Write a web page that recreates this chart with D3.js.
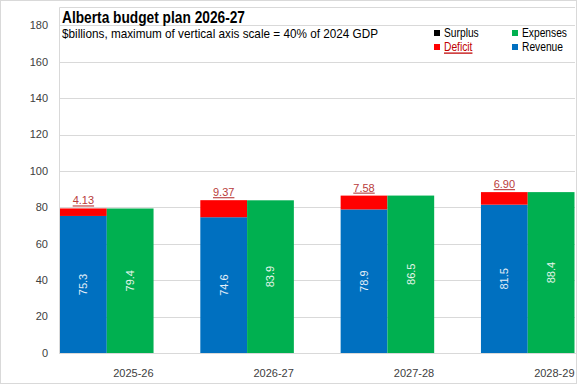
<!DOCTYPE html>
<html>
<head>
<meta charset="utf-8">
<script src="https://cdn.jsdelivr.net/npm/d3@7"></script>
<style>
  body { margin: 0; background: #fff; }
  text { font-family: "Liberation Sans", Arial, sans-serif; }
</style>
</head>
<body>
<div id="chart"></div>
<script>
const years = ["2025-26", "2026-27", "2027-28", "2028-29"];
const revenue = [75.3, 74.6, 78.9, 81.5];
const expenses = [79.4, 83.9, 86.5, 88.4];
const deficit = [4.13, 9.37, 7.58, 6.90];
const yTicks = [0, 20, 40, 60, 80, 100, 120, 140, 160, 180];
const legendItems = [
  {name: "Surplus", color: "#000000"},
  {name: "Expenses", color: "#00b050"},
  {name: "Deficit", color: "#ff0000"},
  {name: "Revenue", color: "#0070c0"}
];

const W = 577, H = 385;
const plot = {left: 59, right: 575, top: 7, bottom: 353};

const svg = d3.select("#chart").append("svg")
    .attr("width", W).attr("height", H);

// outer frame
svg.append("rect")
    .attr("x", 0.5).attr("y", 0.5)
    .attr("width", W - 1).attr("height", H - 2)
    .attr("fill", "#fff").attr("stroke", "#d9d9d9");

const y = d3.scaleLinear().domain([0, 180]).range([plot.bottom, 25.4]);

const x = d3.scaleBand()
    .domain(years)
    .range([60, 574.5])
    .paddingInner(1 / 3)
    .paddingOuter(0);

const xSub = d3.scaleBand()
    .domain(["rev", "exp"])
    .range([0, x.bandwidth()]);

// gridlines
svg.append("g").selectAll("line")
    .data(yTicks.slice(1))
    .enter().append("line")
    .attr("x1", plot.left).attr("x2", plot.right)
    .attr("y1", d => Math.round(y(d)) + 0.5).attr("y2", d => Math.round(y(d)) + 0.5)
    .attr("stroke", "#d9d9d9");

// plot frame (left + top)
svg.append("path")
    .attr("d", `M${plot.left + 0.5},${plot.bottom}V${plot.top + 0.5}H${plot.right}`)
    .attr("fill", "none").attr("stroke", "#d9d9d9");

svg.append("clipPath").attr("id", "pclip")
  .append("rect").attr("x", plot.left).attr("y", 0)
    .attr("width", plot.right - plot.left).attr("height", plot.bottom);

const bars = svg.append("g").attr("clip-path", "url(#pclip)");

// revenue
bars.selectAll(".rev").data(years).enter().append("rect")
    .attr("x", d => x(d) + xSub("rev"))
    .attr("y", (d, i) => y(revenue[i]))
    .attr("width", xSub.bandwidth())
    .attr("height", (d, i) => y(0) - y(revenue[i]))
    .attr("fill", "#0070c0");

// deficit stacked on revenue
bars.selectAll(".def").data(years).enter().append("rect")
    .attr("x", d => x(d) + xSub("rev"))
    .attr("y", (d, i) => y(revenue[i] + deficit[i]))
    .attr("width", xSub.bandwidth())
    .attr("height", (d, i) => y(revenue[i]) - y(revenue[i] + deficit[i]))
    .attr("fill", "#ff0000");

// expenses
bars.selectAll(".exp").data(years).enter().append("rect")
    .attr("x", d => x(d) + xSub("exp"))
    .attr("y", (d, i) => y(expenses[i]))
    .attr("width", xSub.bandwidth())
    .attr("height", (d, i) => y(0) - y(expenses[i]))
    .attr("fill", "#00b050");

// x axis line
svg.append("line")
    .attr("x1", plot.left).attr("x2", plot.right + 1)
    .attr("y1", plot.bottom + 0.5).attr("y2", plot.bottom + 0.5)
    .attr("stroke", "#d9d9d9");

// value labels inside bars
function vlabel(vals, key, color) {
  svg.append("g").selectAll("text").data(years).enter().append("text")
      .attr("transform", (d, i) => {
        const cx = x(d) + xSub(key) + xSub.bandwidth() / 2;
        const cy = (y(0) + y(vals[i])) / 2;
        return `translate(${cx},${cy}) rotate(-90)`;
      })
      .attr("text-anchor", "middle")
      .attr("dy", "0.35em")
      .attr("font-size", 11)
      .attr("fill", color)
      .text((d, i) => vals[i].toFixed(1));
}
vlabel(revenue, "rev", "#e6eff8");
vlabel(expenses, "exp", "#e6f6ec");

// deficit labels
svg.append("g").selectAll("text").data(years).enter().append("text")
    .attr("x", d => x(d) + xSub("rev") + xSub.bandwidth() / 2)
    .attr("y", (d, i) => y(revenue[i] + deficit[i]) - 4)
    .attr("text-anchor", "middle")
    .attr("font-size", 11)
    .attr("fill", "#b83b3b")
    .attr("text-decoration", "underline")
    .text((d, i) => deficit[i].toFixed(2));

// y axis labels
svg.append("g").selectAll("text")
    .data(yTicks).enter().append("text")
    .attr("x", 48)
    .attr("y", d => y(d))
    .attr("dy", "0.35em")
    .attr("text-anchor", "end")
    .attr("font-size", 11)
    .attr("fill", "#404040")
    .text(d => d);

// x axis labels (right-aligned to each group)
svg.append("g").selectAll("text")
    .data(years).enter().append("text")
    .attr("x", d => x(d) + x.bandwidth())
    .attr("y", 377)
    .attr("text-anchor", "end")
    .attr("font-size", 11)
    .attr("fill", "#404040")
    .text(d => d);

// title + subtitle (condensed look)
svg.append("text")
    .attr("x", 62).attr("y", 23)
    .attr("font-size", 17).attr("font-weight", "bold")
    .attr("fill", "#000")
    .attr("textLength", 183).attr("lengthAdjust", "spacingAndGlyphs")
    .text("Alberta budget plan 2026-27");

svg.append("text")
    .attr("x", 62).attr("y", 38)
    .attr("font-size", 13)
    .attr("fill", "#000")
    .attr("textLength", 316).attr("lengthAdjust", "spacingAndGlyphs")
    .text("$billions, maximum  of vertical  axis scale = 40% of 2024 GDP");

// legend
const legPos = [[434, 33], [512, 33], [434, 47], [512, 47]];
const leg = svg.append("g").selectAll("g")
    .data(legendItems).enter().append("g")
    .attr("transform", (d, i) => `translate(${legPos[i][0]},${legPos[i][1]})`);
leg.append("rect")
    .attr("x", 0).attr("y", -3).attr("width", 6).attr("height", 6)
    .attr("fill", d => d.color);
leg.append("text")
    .attr("transform", "translate(10,0) scale(0.82,1)")
    .attr("dy", "0.35em")
    .attr("font-size", 12.5)
    .attr("fill", d => d.name === "Deficit" ? "#c00000" : "#000")
    .attr("text-decoration", d => d.name === "Deficit" ? "underline" : null)
    .text(d => d.name);
</script>
</body>
</html>
